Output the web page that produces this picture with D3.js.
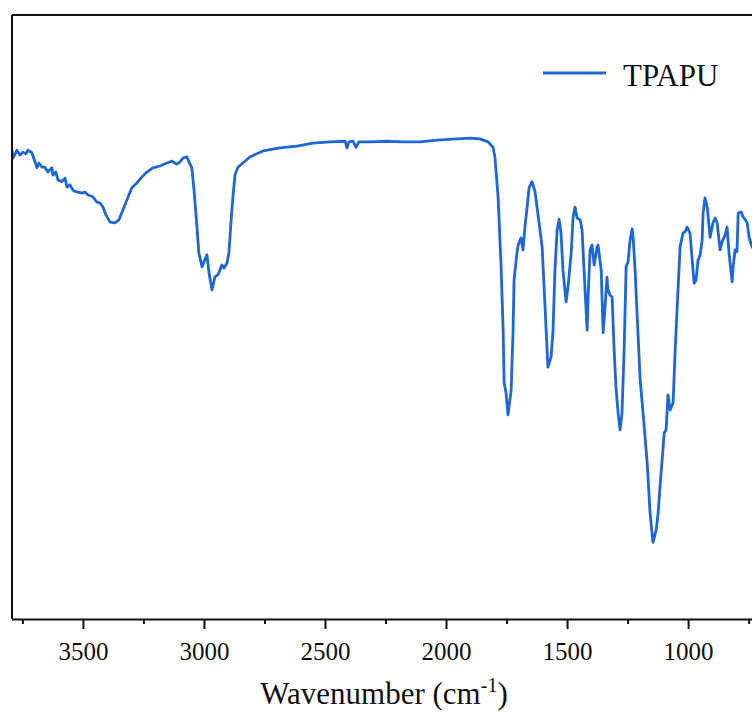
<!DOCTYPE html>
<html>
<head>
<meta charset="utf-8">
<script src="https://cdn.jsdelivr.net/npm/d3@7"></script>
<style>
  body { margin: 0; background: #fff; }
  svg { display: block; }
</style>
</head>
<body>
<div id="chart"></div>
<script>
// Espectro FTIR (número de onda em cm-1, transmitância relativa)
const wavenumber = [
  3793, 3789, 3773, 3760, 3748, 3736, 3727, 3711, 3698, 3690, 3682, 3669, 3657, 3645, 3628, 3624,
  3612, 3603, 3587, 3574, 3566, 3554, 3541, 3525, 3504, 3492, 3479, 3459, 3442, 3430, 3417, 3405,
  3388, 3368, 3351, 3335, 3318, 3298, 3277, 3256, 3236, 3211, 3182, 3153, 3132, 3112, 3099, 3087,
  3070, 3062, 3050, 3041, 3029, 3021, 3008, 3000, 2988, 2979, 2967, 2955, 2942, 2926, 2917, 2905,
  2897, 2884, 2872, 2860, 2839, 2810, 2756, 2686, 2616, 2550, 2479, 2417, 2409, 2401, 2384, 2372,
  2360, 2314, 2244, 2178, 2107, 2037, 1955, 1901, 1860, 1826, 1806, 1798, 1785, 1773, 1764, 1760,
  1752, 1744, 1731, 1723, 1719, 1707, 1702, 1690, 1682, 1674, 1665, 1657, 1645, 1632, 1620, 1603,
  1595, 1587, 1579, 1566, 1558, 1550, 1541, 1533, 1525, 1517, 1504, 1496, 1483, 1475, 1467, 1459,
  1446, 1438, 1430, 1417, 1413, 1405, 1397, 1388, 1376, 1372, 1359, 1351, 1343, 1335, 1331, 1322,
  1314, 1306, 1298, 1289, 1281, 1273, 1264, 1256, 1248, 1240, 1231, 1227, 1219, 1211, 1198, 1186,
  1169, 1157, 1145, 1132, 1124, 1116, 1103, 1099, 1091, 1083, 1074, 1062, 1054, 1045, 1033, 1021,
  1012, 1004, 992, 983, 975, 967, 959, 950, 942, 938, 930, 921, 909, 897, 888, 880,
  868, 860, 847, 839, 831, 818, 814, 806, 798, 793, 781, 773, 764, 756, 748, 736, 725
];
const transmittance = [
  77.6, 76.3, 77.6, 76.8, 77.3, 77.0, 77.6, 77.2, 75.7, 74.7, 75.5, 74.8, 74.8, 74.0, 74.7, 73.5,
  74.0, 72.7, 72.4, 73.0, 71.5, 71.9, 71.0, 70.7, 70.5, 70.7, 70.2, 69.9, 69.0, 68.9, 68.2, 66.9,
  65.7, 65.6, 66.1, 67.7, 69.4, 71.4, 72.2, 73.2, 74.0, 74.7, 75.0, 75.5, 75.8, 75.3, 75.7, 76.3,
  76.5, 75.7, 74.7, 71.0, 64.9, 60.6, 58.3, 59.1, 60.3, 57.3, 54.5, 56.6, 57.0, 58.6, 58.1, 58.9,
  60.6, 68.2, 73.5, 74.8, 75.5, 76.5, 77.5, 78.0, 78.3, 78.8, 79.0, 79.1, 78.0, 79.0, 79.1, 78.1,
  79.0, 79.0, 79.1, 79.0, 79.0, 79.3, 79.5, 79.6, 79.5, 79.0, 78.1, 76.5, 69.9, 58.9, 47.8, 39.1,
  37.4, 33.8, 37.9, 47.8, 56.1, 60.6, 61.9, 63.1, 61.1, 64.9, 68.2, 71.4, 72.4, 70.7, 66.9, 61.6,
  55.0, 48.3, 41.7, 43.4, 47.8, 57.8, 64.4, 66.2, 63.9, 57.8, 52.5, 55.0, 60.6, 66.6, 68.2, 66.4,
  66.1, 64.4, 57.8, 47.8, 53.3, 61.1, 61.9, 58.6, 61.6, 61.9, 57.8, 47.4, 51.7, 56.6, 54.5, 53.6,
  53.3, 45.0, 38.4, 34.1, 31.3, 34.1, 45.0, 58.3, 59.1, 62.7, 64.6, 63.1, 57.8, 50.7, 39.6, 34.1,
  25.8, 17.5, 12.7, 14.7, 17.5, 21.9, 28.5, 30.8, 31.3, 37.1, 34.6, 35.8, 44.0, 51.7, 61.6, 63.9,
  64.1, 64.9, 63.9, 59.4, 55.6, 56.1, 59.4, 60.3, 62.7, 67.2, 69.7, 68.2, 63.2, 65.6, 66.4, 65.6,
  61.1, 62.4, 63.6, 64.9, 60.6, 55.8, 58.3, 61.1, 60.8, 67.2, 67.4, 66.6, 66.1, 65.6, 63.2, 61.6, 61.1
];
const majorTicks = [3500, 3000, 2500, 2000, 1500, 1000];
const minorTicks = [3750, 3250, 2750, 2250, 1750, 1250, 750];
const seriesName = "TPAPU";

const data = wavenumber.map((w, i) => ({ w: w, t: transmittance[i] }));

const width = 752, height = 715;
const margin = { top: 15, right: 0, bottom: 96, left: 12 };
const color = "#1f66d6";
const serif = "'Liberation Serif', 'Times New Roman', Times, serif";

const svg = d3.select("#chart").append("svg")
    .attr("width", width)
    .attr("height", height);

// Escalas (eixo x invertido, como em espectros de IV)
const x = d3.scaleLinear()
    .domain([3793, 736])
    .range([margin.left, width - margin.right]);
const y = d3.scaleLinear()
    .domain([0, 100])
    .range([height - margin.bottom, margin.top]);

svg.append("defs").append("clipPath").attr("id", "clip")
  .append("rect")
    .attr("x", margin.left).attr("y", margin.top)
    .attr("width", width - margin.left - margin.right)
    .attr("height", height - margin.top - margin.bottom);

// Linha do espectro
const line = d3.line()
    .x(d => x(d.w))
    .y(d => y(d.t));

svg.append("path")
    .datum(data)
    .attr("clip-path", "url(#clip)")
    .attr("fill", "none")
    .attr("stroke", color)
    .attr("stroke-width", 2.8)
    .attr("stroke-linejoin", "round")
    .attr("d", line);

// Moldura: topo e esquerda
svg.append("line")
    .attr("x1", margin.left).attr("x2", width)
    .attr("y1", margin.top).attr("y2", margin.top)
    .attr("stroke", "#111").attr("stroke-width", 2);
svg.append("line")
    .attr("x1", margin.left).attr("x2", margin.left)
    .attr("y1", margin.top).attr("y2", height - margin.bottom)
    .attr("stroke", "#111").attr("stroke-width", 2);

// Eixo x
const gMinor = svg.append("g")
    .attr("transform", `translate(0,${height - margin.bottom})`)
    .call(d3.axisBottom(x).tickValues(minorTicks).tickSize(5).tickSizeOuter(0).tickFormat(""));
gMinor.select(".domain").remove();
gMinor.selectAll(".tick line").attr("stroke", "#111").attr("stroke-width", 2);

const gx = svg.append("g")
    .attr("transform", `translate(0,${height - margin.bottom})`)
    .call(d3.axisBottom(x).tickValues(majorTicks).tickSize(10).tickSizeOuter(0).tickPadding(13).tickFormat(d3.format("d")));
gx.attr("font-family", serif).attr("font-size", 25);
gx.select(".domain").attr("stroke", "#111").attr("stroke-width", 2.2)
    .attr("d", `M${margin.left},0.5H${width}`);
gx.selectAll(".tick line").attr("stroke", "#111").attr("stroke-width", 2);
gx.selectAll(".tick text").attr("fill", "#111");

// Título do eixo
const title = svg.append("text")
    .attr("x", 384)
    .attr("y", 704)
    .attr("text-anchor", "middle")
    .attr("font-family", serif)
    .attr("font-size", 31)
    .attr("fill", "#111");
title.append("tspan").text("Wavenumber (cm");
title.append("tspan").attr("dy", "-12").attr("font-size", 20).text("-1");
title.append("tspan").attr("dy", "12").text(")");

// Legenda
svg.append("line")
    .attr("x1", 543).attr("x2", 606)
    .attr("y1", 73).attr("y2", 73)
    .attr("stroke", color).attr("stroke-width", 2.8);
svg.append("text")
    .attr("x", 623)
    .attr("y", 86)
    .attr("font-family", serif)
    .attr("font-size", 31)
    .attr("fill", "#111")
    .text(seriesName);
</script>
</body>
</html>
